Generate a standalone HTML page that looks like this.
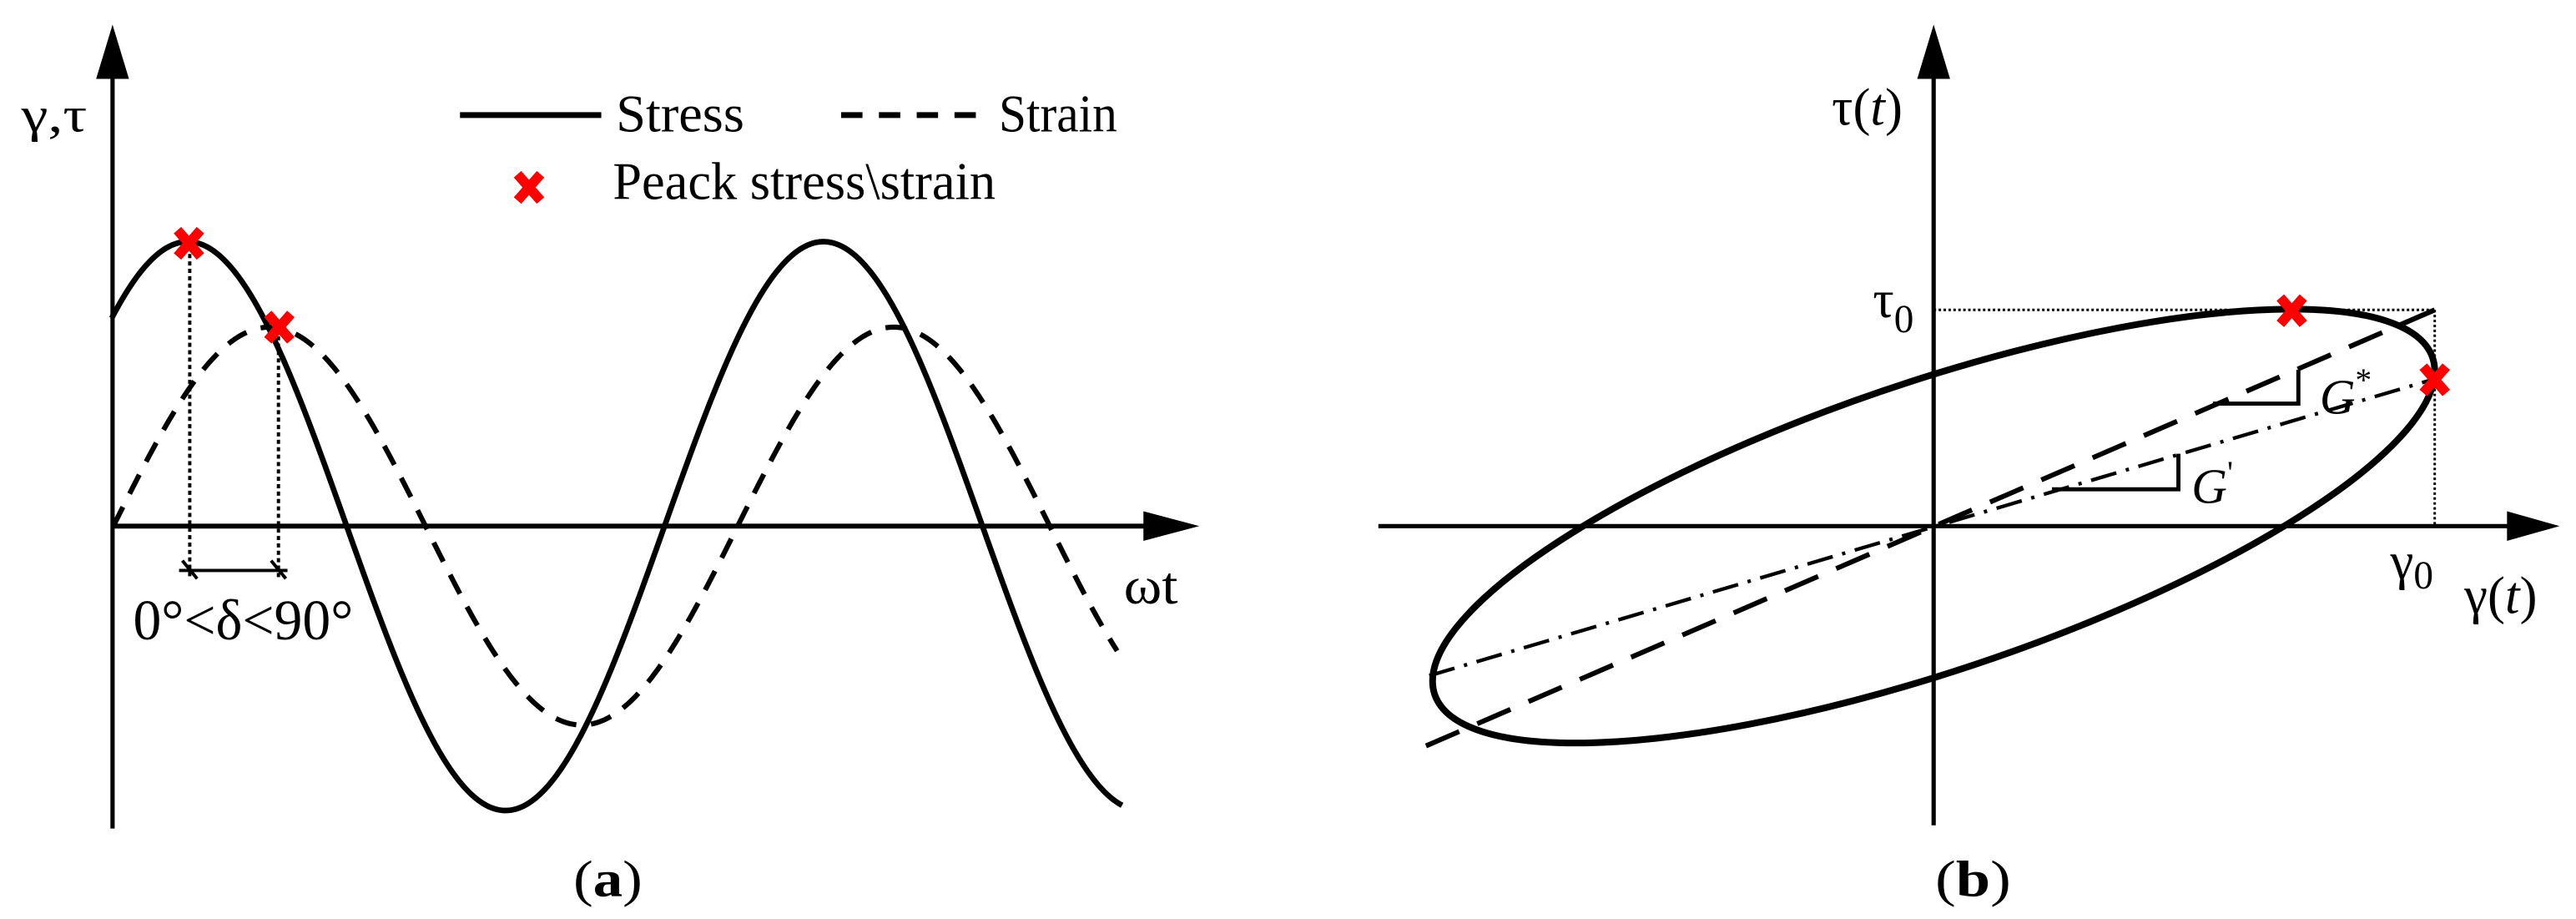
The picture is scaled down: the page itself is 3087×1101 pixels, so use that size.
<!DOCTYPE html>
<html><head><meta charset="utf-8">
<style>
html,body{margin:0;padding:0;background:#fff;}
svg{display:block;}
svg text{font-family:"Liberation Serif","Times New Roman",Times,"DejaVu Serif",serif;fill:#000;}
</style></head>
<body>
<svg id="s" width="3087" height="1101" viewBox="0 0 1568 559" preserveAspectRatio="none" xmlns="http://www.w3.org/2000/svg" font-family="'Liberation Serif', 'Times New Roman', serif">
<defs>
<g id="rx"><line x1="-7" y1="-8" x2="7" y2="8" stroke="#ff0000" stroke-width="6"/><line x1="7" y1="-8" x2="-7" y2="8" stroke="#ff0000" stroke-width="6"/></g>
</defs>
<!-- LEFT PANEL -->
<line x1="68.5" y1="40" x2="68.5" y2="504" stroke="#000" stroke-width="2.6"/>
<polygon points="68.5,15 58.5,48 78.5,48" fill="#000"/>
<line x1="68" y1="320" x2="700" y2="320" stroke="#000" stroke-width="3"/>
<polygon points="730,320 696,311 696,329" fill="#000"/>
<path id="stress" fill="none" stroke="#000" stroke-width="3.4"/>
<path id="strain" fill="none" stroke="#000" stroke-width="3.1" stroke-dasharray="13 9"/>
<line x1="115.5" y1="150" x2="115.5" y2="352" stroke="#000" stroke-width="2" stroke-dasharray="2.5 2"/>
<line x1="169.5" y1="200" x2="169.5" y2="352" stroke="#000" stroke-width="2" stroke-dasharray="2.5 2"/>
<line x1="109" y1="347" x2="175" y2="347" stroke="#000" stroke-width="2"/>
<line x1="111" y1="341" x2="120" y2="352" stroke="#000" stroke-width="2"/>
<line x1="165" y1="341" x2="174" y2="352" stroke="#000" stroke-width="2"/>
<use href="#rx" x="115" y="148"/>
<use href="#rx" x="170" y="199"/>
<text x="13" y="80" font-size="30" textLength="40" lengthAdjust="spacingAndGlyphs">γ,τ</text>
<line x1="280" y1="70" x2="366" y2="70" stroke="#000" stroke-width="3.5"/>
<text x="375" y="80" font-size="32" textLength="78" lengthAdjust="spacingAndGlyphs">Stress</text>
<line x1="512" y1="70" x2="596" y2="70" stroke="#000" stroke-width="3.5" stroke-dasharray="13 10"/>
<text x="608" y="80" font-size="32" textLength="72" lengthAdjust="spacingAndGlyphs">Strain</text>
<use href="#rx" x="322" y="114"/>
<text x="373" y="121" font-size="32" textLength="233" lengthAdjust="spacingAndGlyphs">Peack stress\strain</text>
<text x="81" y="389" font-size="35" textLength="134" lengthAdjust="spacingAndGlyphs">0°&lt;δ&lt;90°</text>
<text x="684" y="367" font-size="32" textLength="33" lengthAdjust="spacingAndGlyphs">ωt</text>
<text x="349" y="545" font-size="31" textLength="42" lengthAdjust="spacingAndGlyphs">(<tspan font-weight="bold">a</tspan>)</text>

<!-- RIGHT PANEL -->
<line x1="1177" y1="40" x2="1177" y2="502" stroke="#000" stroke-width="2.6"/>
<polygon points="1177,15 1167,48 1187,48" fill="#000"/>
<line x1="839" y1="320" x2="1530" y2="320" stroke="#000" stroke-width="2.6"/>
<polygon points="1558,320 1526,311 1526,329" fill="#000"/>
<line x1="1177" y1="188.5" x2="1482" y2="188.5" stroke="#000" stroke-width="1.5" stroke-dasharray="1.5 1.5"/>
<line x1="1482" y1="188.5" x2="1482" y2="320" stroke="#000" stroke-width="1.5" stroke-dasharray="1.5 1.5"/>
<ellipse cx="0" cy="0" rx="1" ry="1" transform="matrix(305 -94.3 0 -92.3 1177 320)" fill="none" stroke="#000" stroke-width="8" vector-effect="non-scaling-stroke"/>
<line x1="868" y1="453.7" x2="1482" y2="188.5" stroke="#000" stroke-width="3" stroke-dasharray="22 12"/>
<line x1="1460" y1="198" x2="1482" y2="188.5" stroke="#000" stroke-width="3"/>
<line x1="870" y1="411" x2="1482" y2="230.5" stroke="#000" stroke-width="2.2" stroke-dasharray="16 6 2 6"/>
<polyline points="1347,245.5 1399,245.5 1399,225" fill="none" stroke="#000" stroke-width="2.5"/>
<polyline points="1249,297.6 1326,297.6 1326,276" fill="none" stroke="#000" stroke-width="2.5"/>
<text x="1412" y="251.6" font-size="30" font-style="italic">G<tspan font-size="20" dy="-14" font-style="normal">*</tspan></text>
<text x="1334" y="306" font-size="30" font-style="italic">G<tspan font-size="20" dy="-12" font-style="normal">'</tspan></text>
<use href="#rx" x="1395" y="189"/>
<use href="#rx" x="1482" y="231"/>
<text x="1115" y="76" font-size="32">τ(<tspan font-style="italic">t</tspan>)</text>
<text x="1140" y="193" font-size="32">τ<tspan font-size="24" dy="9">0</tspan></text>
<text x="1455" y="352" font-size="32">γ<tspan font-size="24" dy="6">0</tspan></text>
<text x="1500" y="373" font-size="32">γ(<tspan font-style="italic">t</tspan>)</text>
<text x="1178" y="545" font-size="31" textLength="46" lengthAdjust="spacingAndGlyphs">(<tspan font-weight="bold">b</tspan>)</text>
</svg>
<script>
function sine(x0,x1,amp,per,phase){var d="";for(var x=x0;x<=x1;x+=1){var y=320-amp*Math.sin(2*Math.PI*(x-phase)/per);d+=(x==x0?"M":"L")+x.toFixed(1)+","+y.toFixed(2);}return d;}
document.getElementById("stress").setAttribute("d",sine(68,683,173,387,17.5));
document.getElementById("strain").setAttribute("d",sine(69,680,121,380,69));
</script>
</body></html>
